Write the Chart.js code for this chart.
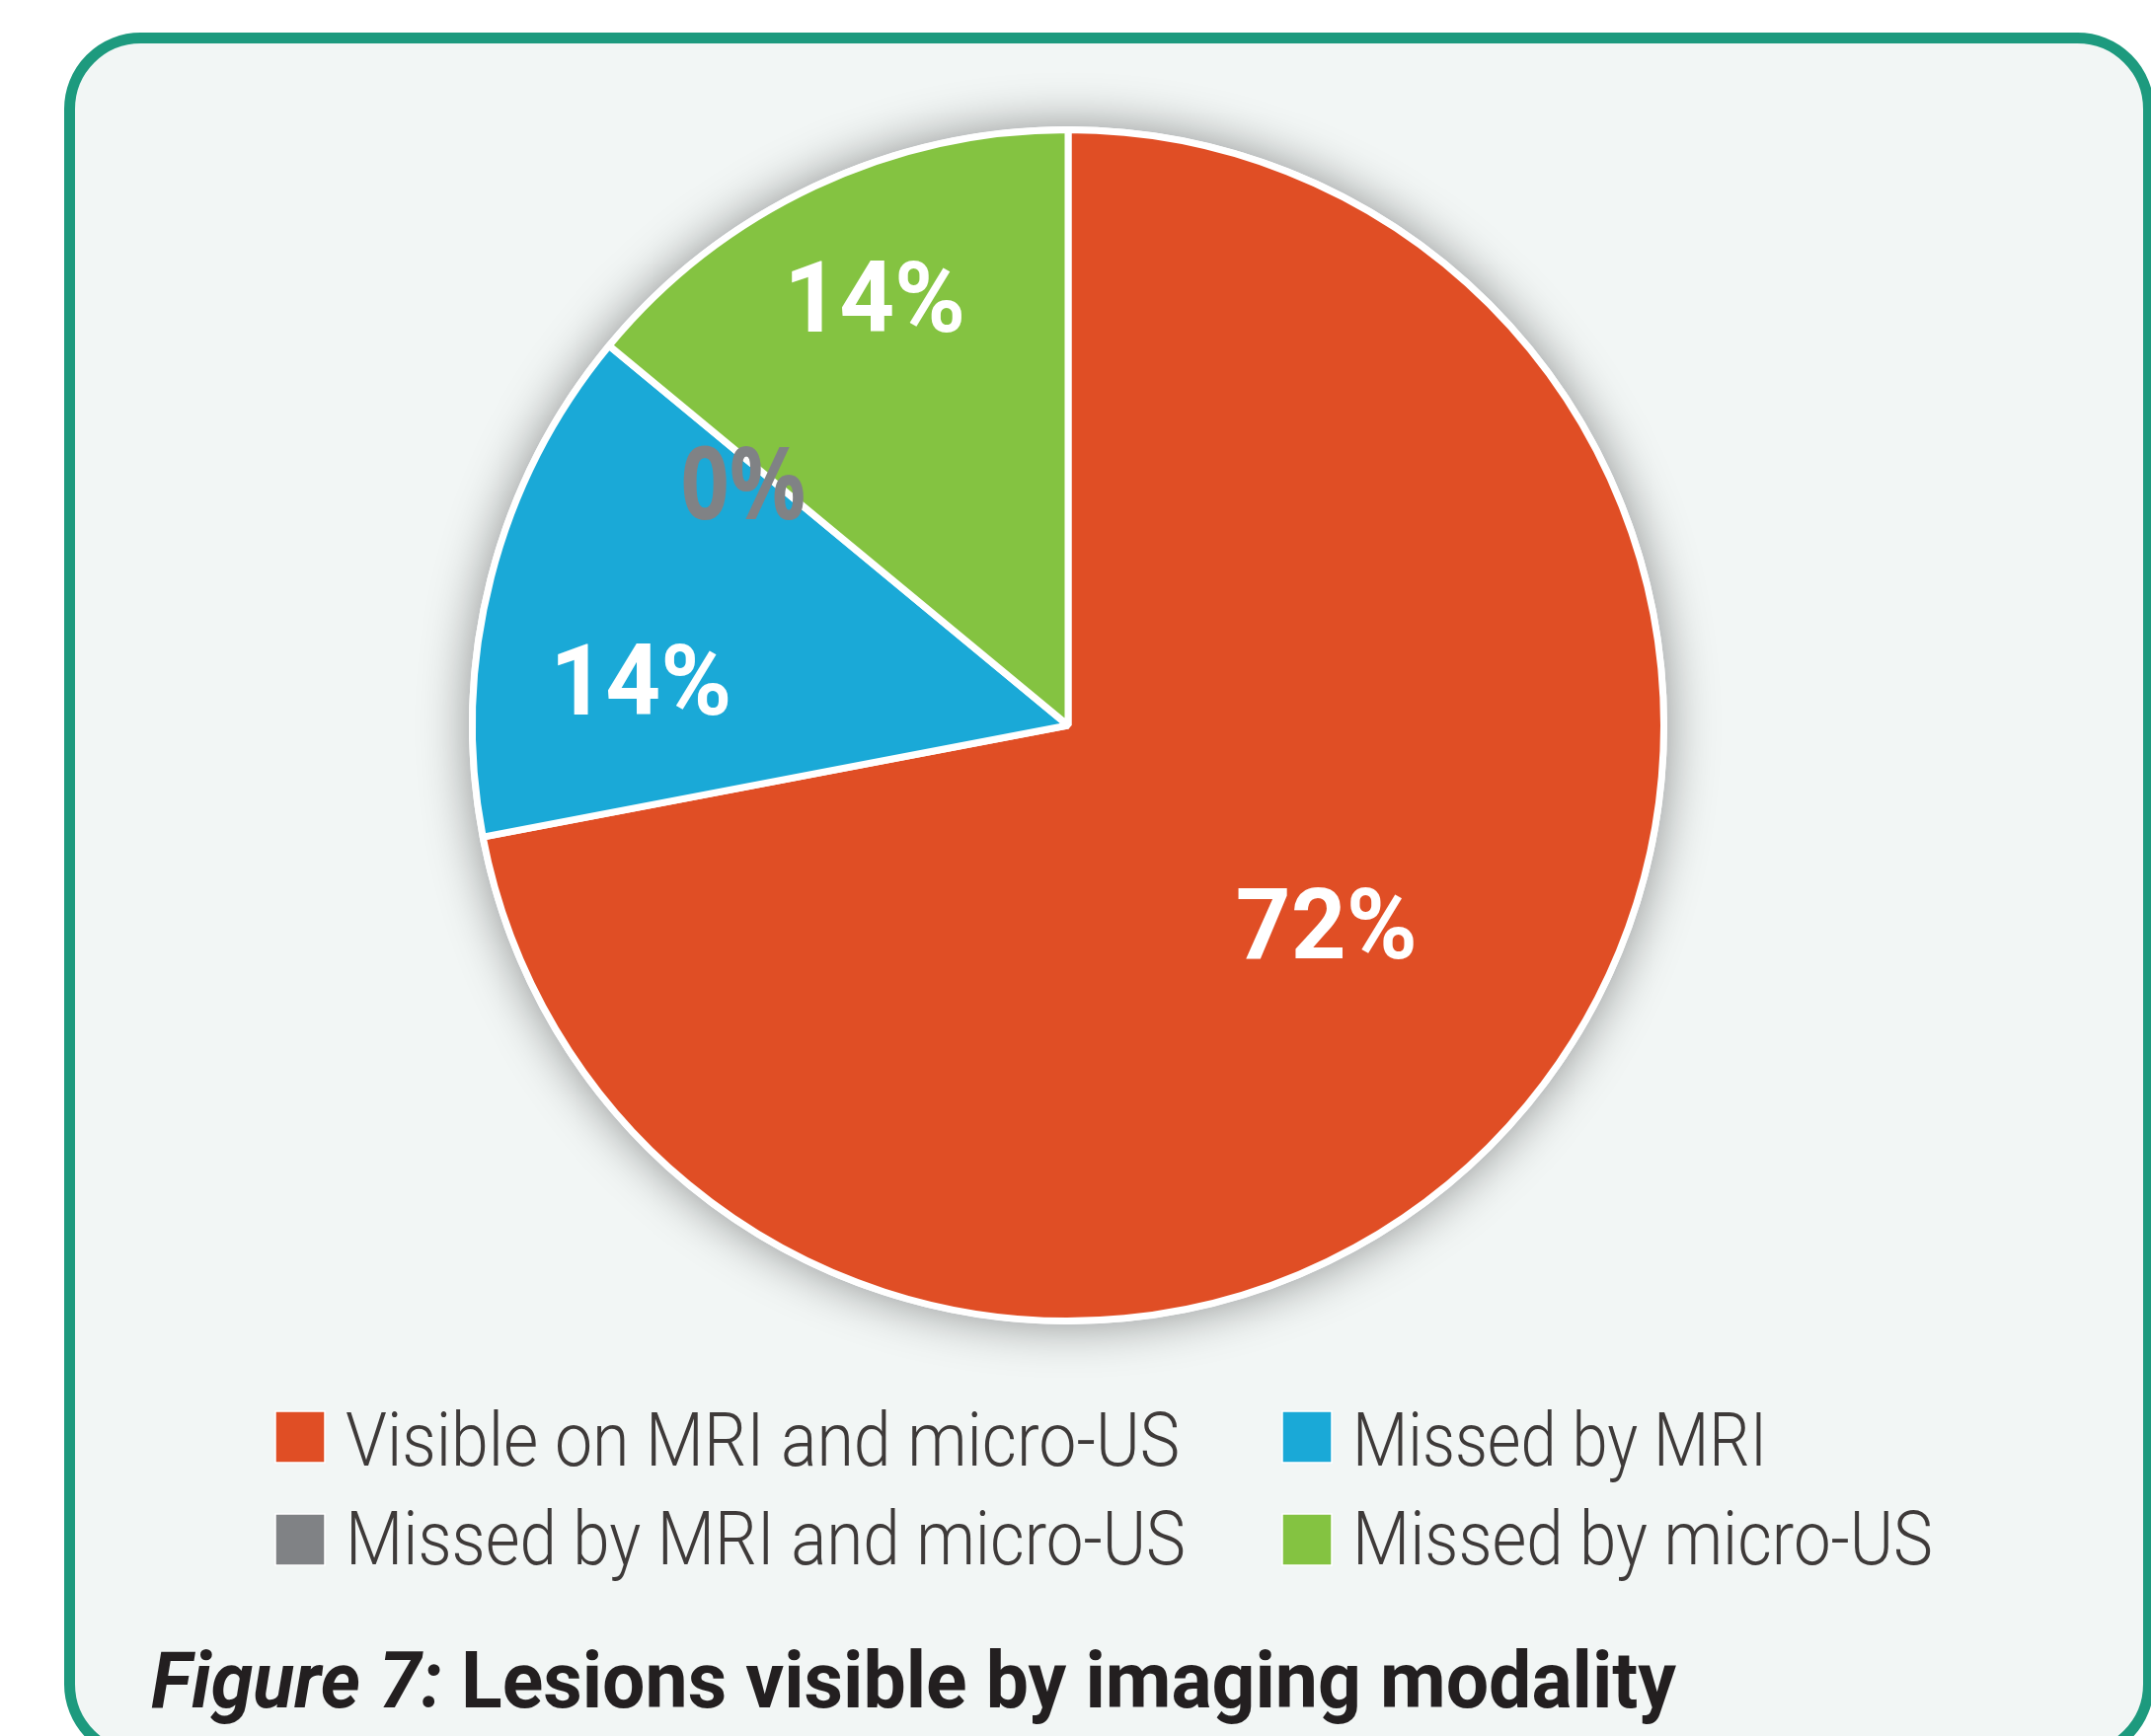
<!DOCTYPE html>
<html>
<head>
<meta charset="utf-8">
<title>Figure 7</title>
<script src="https://cdn.jsdelivr.net/npm/chart.js@4.4.1/dist/chart.umd.min.js"></script>
<style>
  html, body { margin: 0; padding: 0; background: #ffffff; }
  canvas { display: block; }
</style>
</head>
<body>
<canvas id="lesionPie" width="2179" height="1759"></canvas>
<script>
// data
const categories = ['Visible on MRI and micro-US', 'Missed by MRI', 'Missed by MRI and micro-US', 'Missed by micro-US'];
const shares = [72, 14, 0, 14];
const sliceColors = ['#e04e25', '#1aa9d7', '#808285', '#84c341'];
const figureLabel = 'Figure 7:';
const figureTitle = 'Lesions visible by imaging modality';

// where each % label sits: angle shift (deg) from slice middle, radius fraction
const LABEL_PLACE = [
    { shift: -2.2, r: 0.546 },
    { shift: -8.3, r: 0.721 },
    { shift: -2.9, r: 0.68 },
    { shift: 0.95, r: 0.79 }
];

// legend text widths in px (the original uses a condensed face)
const LEGEND_WIDTHS = [845, 420, 851, 588];

// draw text squeezed horizontally
function drawSqueezed(ctx, text, x, y, scaleX, align) {
    ctx.save();
    ctx.translate(x, y);
    ctx.scale(scaleX, 1);
    ctx.textAlign = align || 'left';
    ctx.fillText(text, 0, 0);
    ctx.restore();
}

function roundRect(ctx, x, y, w, h, r) {
    ctx.beginPath();
    ctx.moveTo(x + r, y);
    ctx.lineTo(x + w - r, y);
    ctx.arcTo(x + w, y, x + w, y + r, r);
    ctx.lineTo(x + w, y + h - r);
    ctx.arcTo(x + w, y + h, x + w - r, y + h, r);
    ctx.lineTo(x + r, y + h);
    ctx.arcTo(x, y + h, x, y + h - r, r);
    ctx.lineTo(x, y + r);
    ctx.arcTo(x, y, x + r, y, r);
    ctx.closePath();
}

// panel behind the chart
const panelPlugin = {
    id: 'panel',
    beforeDraw(chart) {
        const ctx = chart.ctx;
        ctx.save();
        ctx.fillStyle = '#ffffff';
        ctx.fillRect(0, 0, chart.width, chart.height);
        roundRect(ctx, 70.5, 38.5, 2106, 1740, 72);
        ctx.fillStyle = '#f2f6f5';
        ctx.fill();
        ctx.lineWidth = 11;
        ctx.strokeStyle = '#1d9a7e';
        ctx.stroke();
        ctx.restore();
    }
};

// soft shadow under the pie
const shadowPlugin = {
    id: 'pieShadow',
    beforeDatasetsDraw(chart) {
        const arc = chart.getDatasetMeta(0).data[0];
        if (!arc) return;
        const ctx = chart.ctx;
        ctx.save();
        ctx.beginPath();
        ctx.arc(arc.x, arc.y, arc.outerRadius + 3.5, 0, Math.PI * 2);
        ctx.fillStyle = '#ffffff';
        ctx.shadowColor = 'rgba(0, 0, 0, 0.42)';
        ctx.shadowBlur = 50;
        ctx.fill();
        ctx.restore();
    }
};

// percentage labels inside the slices
const sliceLabelPlugin = {
    id: 'sliceLabels',
    afterDatasetsDraw(chart) {
        const ctx = chart.ctx;
        const meta = chart.getDatasetMeta(0);
        const values = chart.data.datasets[0].data;
        ctx.save();
        ctx.textBaseline = 'alphabetic';
        ctx.font = '700 100px Roboto';
        const boldScale = 184 / ctx.measureText('72%').width;
        ctx.font = '700 102px "Open Sans"';
        const zeroScale = 127 / ctx.measureText('0%').width;

        meta.data.forEach((arc, i) => {
            const p = arc.getProps(['x', 'y', 'startAngle', 'endAngle', 'outerRadius'], true);
            const place = LABEL_PLACE[i];
            const mid = (p.startAngle + p.endAngle) / 2 + place.shift * Math.PI / 180;
            const rr = p.outerRadius * place.r;
            const lx = p.x + Math.cos(mid) * rr;
            const ly = p.y + Math.sin(mid) * rr;
            const text = values[i] + '%';
            if (values[i] === 0) {
                ctx.font = '700 102px "Open Sans"';
                ctx.fillStyle = '#808285';
                drawSqueezed(ctx, text, lx, ly + 36, zeroScale, 'center');
            } else {
                ctx.font = '700 100px Roboto';
                ctx.fillStyle = '#ffffff';
                drawSqueezed(ctx, text, lx, ly + 35.5, boldScale, 'center');
            }
        });
        ctx.restore();
    }
};

// two-column legend and the caption
const legendTitlePlugin = {
    id: 'legendTitle',
    afterDraw(chart) {
        const ctx = chart.ctx;
        const labels = chart.data.labels;
        const colors = chart.data.datasets[0].backgroundColor;
        const colX = [279, 1299];
        const rowBoxY = [1430, 1534];
        const rowBase = [1485, 1585];

        ctx.save();
        ctx.font = '300 76px Roboto';
        ctx.textBaseline = 'alphabetic';

        labels.forEach((label, i) => {
            const col = i % 2;
            const row = Math.floor(i / 2);
            const bx = colX[col];
            ctx.fillStyle = colors[i];
            ctx.fillRect(bx, rowBoxY[row], 50, 52);
            ctx.lineWidth = 1.5;
            ctx.strokeStyle = '#ffffff';
            ctx.strokeRect(bx, rowBoxY[row], 50, 52);
            ctx.fillStyle = '#3e3a39';
            const sx = LEGEND_WIDTHS[i] / ctx.measureText(label).width;
            drawSqueezed(ctx, label, bx + 71, rowBase[row], sx, 'left');
        });

        // caption: italic label + bold title
        const fontItalic = 'italic 700 80px Roboto';
        const fontBold = '700 80px Roboto';
        ctx.font = fontItalic;
        const w1 = ctx.measureText(figureLabel + ' ').width;
        ctx.font = fontBold;
        const w2 = ctx.measureText(figureTitle).width;
        const titleScale = 1545 / (w1 + w2);
        ctx.fillStyle = '#231f20';
        ctx.font = fontItalic;
        drawSqueezed(ctx, figureLabel, 153, 1730, titleScale, 'left');
        ctx.font = fontBold;
        drawSqueezed(ctx, figureTitle, 153 + w1 * titleScale, 1730, titleScale, 'left');
        ctx.restore();
    }
};

function buildChart() {
    const ctx = document.getElementById('lesionPie').getContext('2d');
    new Chart(ctx, {
        type: 'pie',
        data: {
            labels: categories,
            datasets: [{
                data: shares,
                backgroundColor: sliceColors,
                borderColor: '#ffffff',
                borderWidth: 7
            }]
        },
        options: {
            responsive: false,
            animation: false,
            layout: {
                padding: { left: 475, top: 128, right: 490, bottom: 417 }
            },
            plugins: {
                legend: { display: false },
                tooltip: { enabled: false },
                title: { display: false }
            }
        },
        plugins: [panelPlugin, shadowPlugin, sliceLabelPlugin, legendTitlePlugin]
    });
}

const fontLoads = [
    '700 100px Roboto', '300 76px Roboto', 'italic 700 80px Roboto', '700 100px "Open Sans"'
].map(f => document.fonts.load(f).catch(() => null));
Promise.all(fontLoads).then(buildChart, buildChart);
</script>
</body>
</html>
